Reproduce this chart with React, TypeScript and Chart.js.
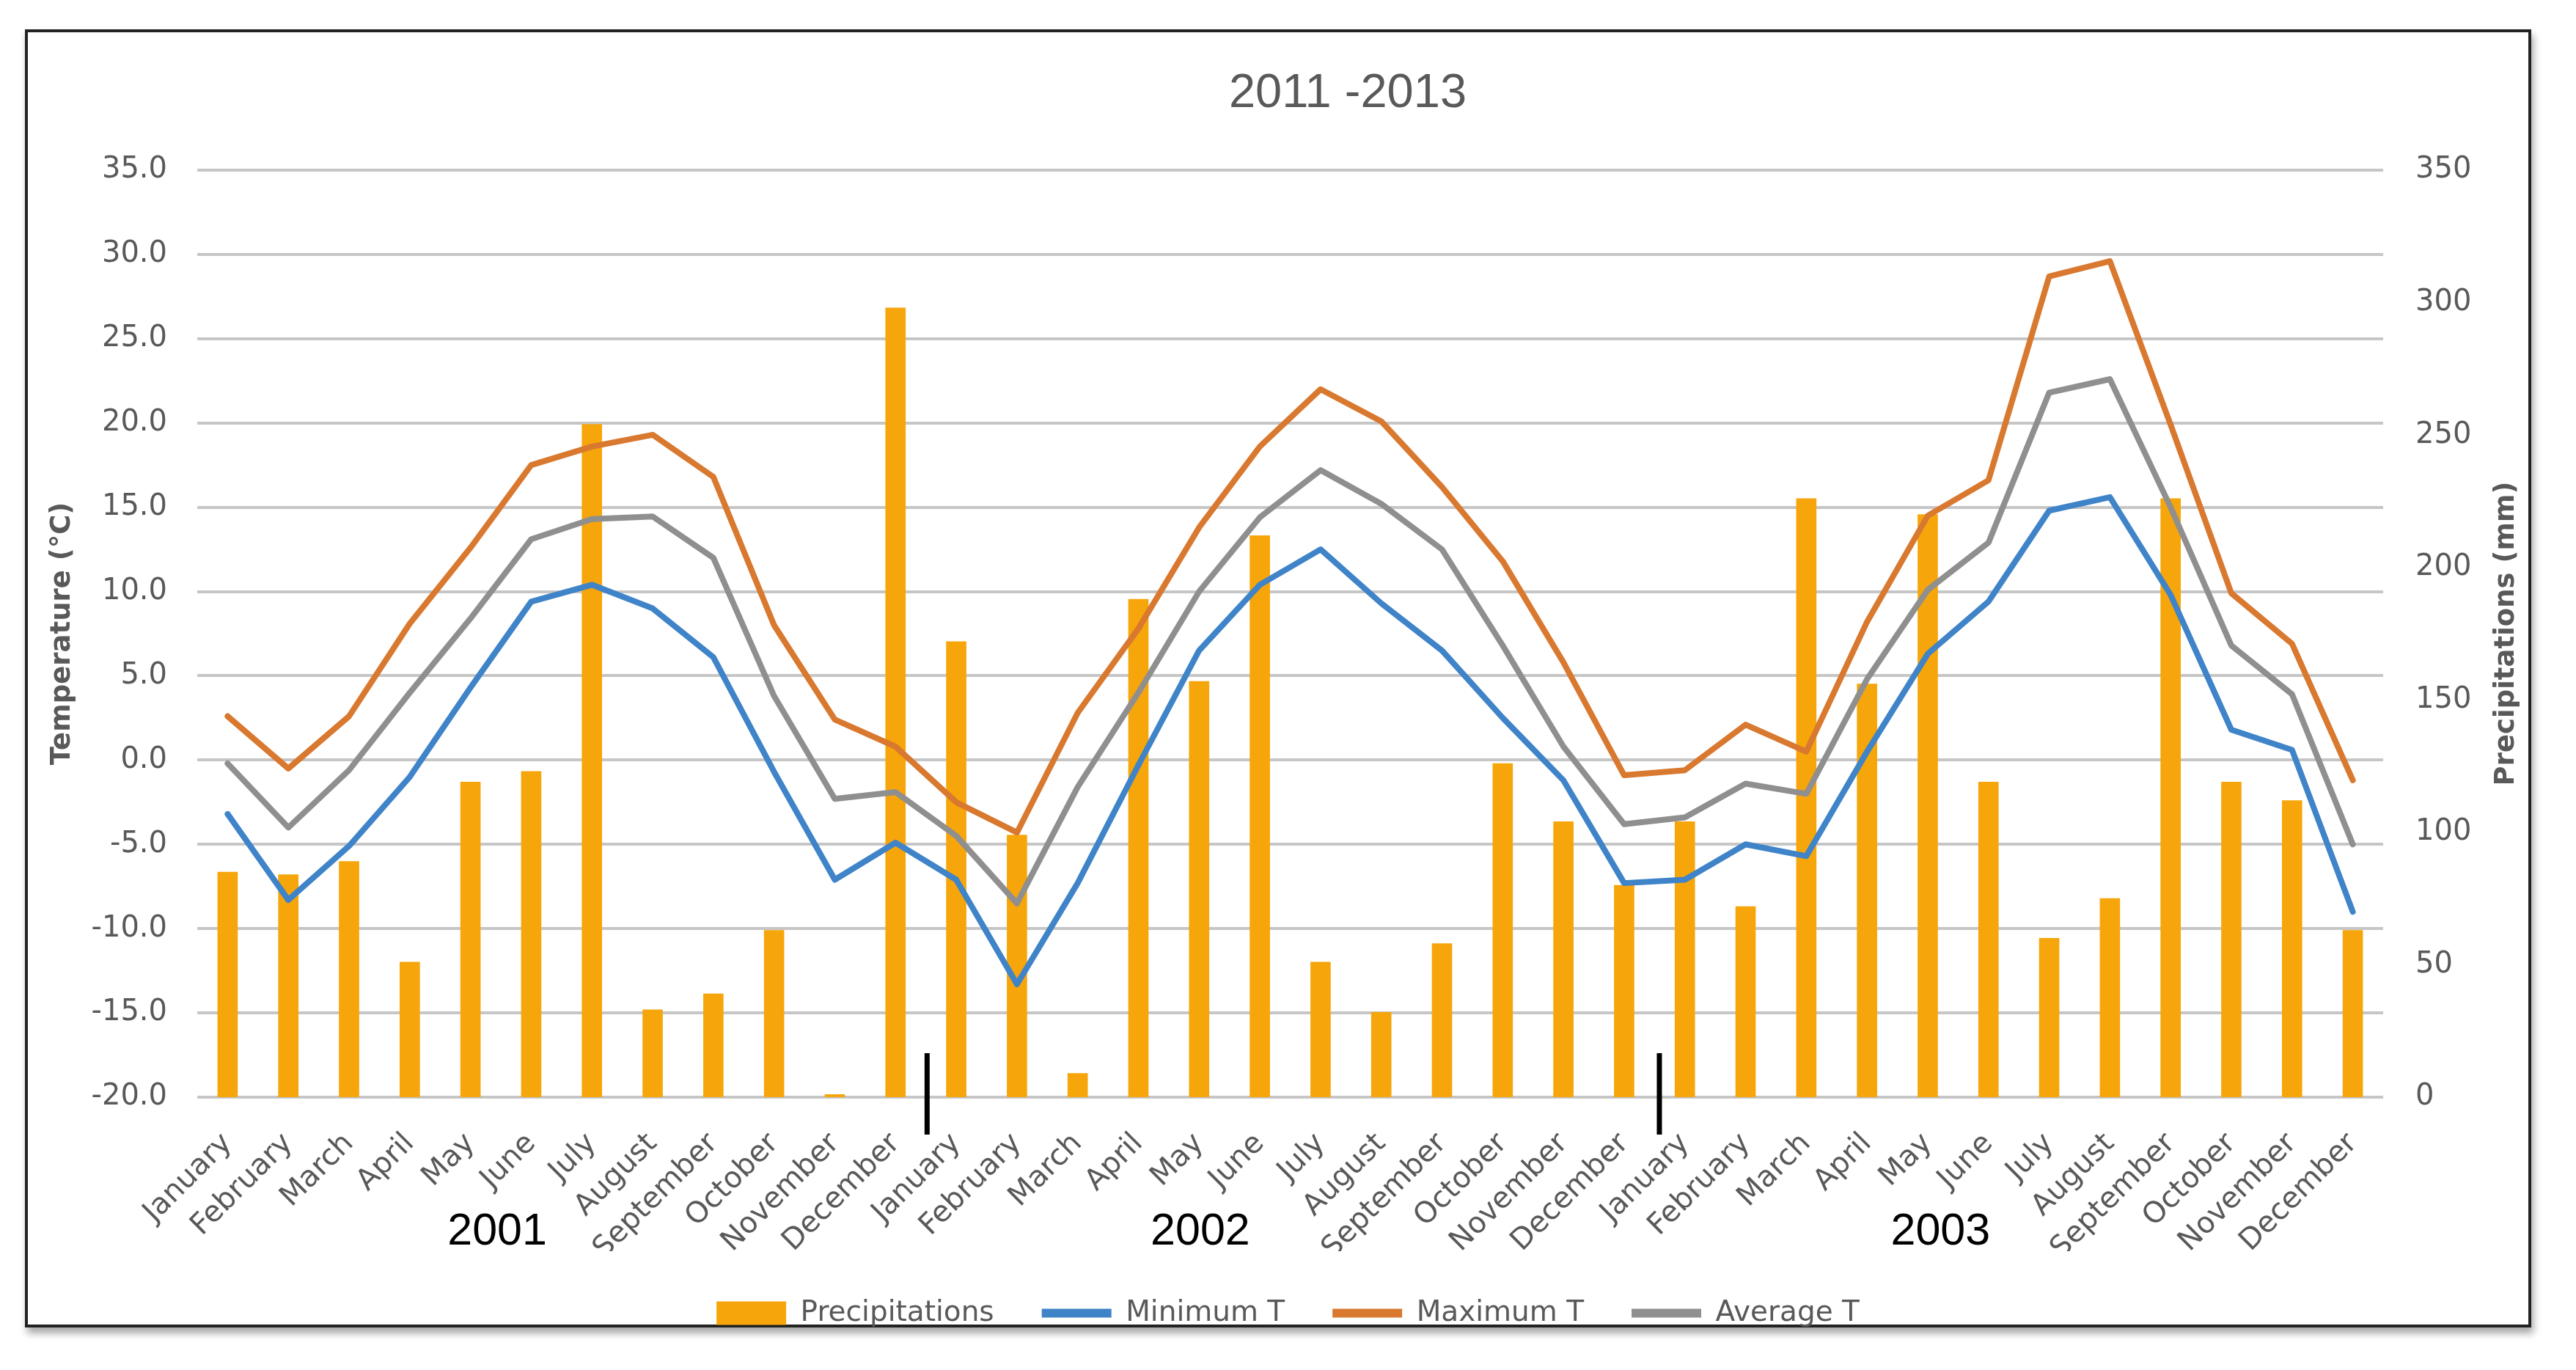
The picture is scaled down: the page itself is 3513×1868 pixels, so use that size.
import React, { useEffect, useRef } from 'react';
import { Chart, registerables } from 'chart.js';

Chart.register(...registerables);

// ---------- data ----------
const monthNames = [
  'January', 'February', 'March', 'April', 'May', 'June',
  'July', 'August', 'September', 'October', 'November', 'December',
];
const categories = [...monthNames, ...monthNames, ...monthNames];

const precipitations = [
  85, 84, 89, 51, 119, 123, 254, 33, 39, 63, 1, 298,
  172, 99, 9, 188, 157, 212, 51, 32, 58, 126, 104, 80,
  104, 72, 226, 156, 220, 119, 60, 75, 226, 119, 112, 63,
];
const minimumT = [
  -3.2, -8.3, -5.1, -1.0, 4.3, 9.4, 10.4, 9.0, 6.1, -0.7, -7.1, -4.9,
  -7.1, -13.3, -7.3, -0.3, 6.5, 10.4, 12.5, 9.3, 6.5, 2.5, -1.2, -7.3,
  -7.1, -5.0, -5.7, 0.5, 6.3, 9.4, 14.8, 15.6, 9.8, 1.8, 0.6, -9.0,
];
const maximumT = [
  2.6, -0.5, 2.6, 8.1, 12.6, 17.5, 18.6, 19.3, 16.8, 8.0, 2.4, 0.8,
  -2.5, -4.3, 2.8, 7.8, 13.8, 18.6, 22.0, 20.1, 16.2, 11.8, 5.8, -0.9,
  -0.6, 2.1, 0.5, 8.2, 14.5, 16.6, 28.7, 29.6, 19.9, 9.9, 6.9, -1.2,
];
const averageT = [
  -0.2, -4.0, -0.6, 4.0, 8.4, 13.1, 14.3, 14.45, 12.0, 3.8, -2.3, -1.9,
  -4.5, -8.5, -1.6, 4.0, 10.0, 14.4, 17.2, 15.2, 12.5, 6.8, 0.8, -3.8,
  -3.4, -1.4, -2.0, 4.8, 10.1, 12.9, 21.8, 22.6, 15.0, 6.8, 3.9, -5.0,
];

const seriesNames = ['Precipitations', 'Minimum T', 'Maximum T', 'Average T'];
const yearLabels = ['2001', '2002', '2003'];
const chartTitle = '2011 -2013';
const leftAxisTitle = 'Temperature (°C)';
const rightAxisTitle = 'Precipitations (mm)';

const tempMin = -20;
const tempMax = 35;
const tempStep = 5;
const precMin = 0;
const precMax = 350;
const precStep = 50;

// ---------- layout / style ----------
const W = 3513;
const H = 1868;
const yearLabelIndex = [4.44, 16.02, 28.21];
const separatorIndex = [11.52, 23.58];
const TEXT = '#595959';
const colors = {
  bar: '#F6A60B',
  min: '#3F83C8',
  max: '#D9782F',
  avg: '#8F8F8F',
  grid: '#C6C6C6',
};

const overlayPlugin = {
  id: 'overlayText',
  afterDraw(chart: any) {
    const { ctx, chartArea, scales } = chart;
    const midY = (chartArea.top + chartArea.bottom) / 2;
    ctx.save();
    // title
    ctx.fillStyle = TEXT;
    ctx.textAlign = 'center';
    ctx.textBaseline = 'middle';
    ctx.font = '65px "Liberation Sans"';
    ctx.fillText(chartTitle, 1838, 128);
    // axis titles (both read bottom-to-top)
    ctx.font = 'bold 37px "DejaVu Sans"';
    ctx.save();
    ctx.translate(85, midY);
    ctx.rotate(-Math.PI / 2);
    ctx.fillText(leftAxisTitle, 0, 0);
    ctx.restore();
    ctx.save();
    ctx.translate(3418, midY);
    ctx.rotate(-Math.PI / 2);
    ctx.fillText(rightAxisTitle, 0, 0);
    ctx.restore();
    // year separators
    ctx.strokeStyle = '#000';
    ctx.lineWidth = 7;
    separatorIndex.forEach((v) => {
      const x = scales.x.getPixelForValue(v);
      ctx.beginPath();
      ctx.moveTo(x, chartArea.bottom - 60);
      ctx.lineTo(x, chartArea.bottom + 51);
      ctx.stroke();
    });
    // year labels
    ctx.fillStyle = '#000';
    ctx.font = '61px "Liberation Sans"';
    yearLabels.forEach((t, i) => {
      const x = scales.x.getPixelForValue(yearLabelIndex[i]);
      ctx.fillText(t, x, 1680);
    });
    ctx.restore();
  },
};

export default function App() {
  const canvasRef = useRef<HTMLCanvasElement | null>(null);

  useEffect(() => {
    if (!canvasRef.current) return;
    const lineCommon = {
      type: 'line' as const,
      yAxisID: 'y',
      borderWidth: 8,
      pointRadius: 0,
      pointHoverRadius: 0,
      pointStyle: 'line',
      pointBorderWidth: 12,
      tension: 0,
      borderJoinStyle: 'round' as const,
      borderCapStyle: 'round' as const,
      order: 0,
    };
    const chart = new Chart(canvasRef.current, {
      type: 'bar',
      data: {
        labels: categories,
        datasets: [
          {
            type: 'bar',
            label: seriesNames[0],
            data: precipitations,
            yAxisID: 'y1',
            backgroundColor: colors.bar,
            borderWidth: 0,
            barThickness: 27,
            pointStyle: 'rect',
            order: 1,
          } as any,
          { ...lineCommon, label: seriesNames[1], data: minimumT, borderColor: colors.min, pointBorderColor: colors.min, pointBackgroundColor: colors.min } as any,
          { ...lineCommon, label: seriesNames[2], data: maximumT, borderColor: colors.max, pointBorderColor: colors.max, pointBackgroundColor: colors.max } as any,
          { ...lineCommon, label: seriesNames[3], data: averageT, borderColor: colors.avg, pointBorderColor: colors.avg, pointBackgroundColor: colors.avg } as any,
        ],
      },
      options: {
        animation: false,
        responsive: false,
        devicePixelRatio: 1,
        layout: { padding: { top: 232, bottom: 48, left: 0, right: 0 } },
        plugins: {
          title: { display: false },
          tooltip: { enabled: false },
          legend: {
            position: 'bottom',
            labels: {
              usePointStyle: true,
              pointStyleWidth: 95,
              boxHeight: 32,
              padding: 65,
              color: TEXT,
              font: { family: '"DejaVu Sans"', size: 39 },
              sort: (a: any, b: any) => a.datasetIndex - b.datasetIndex,
            },
          },
        },
        scales: {
          x: {
            type: 'category',
            offset: true,
            grid: { display: false, drawTicks: false },
            border: { display: false },
            ticks: {
              autoSkip: false,
              maxRotation: 45,
              minRotation: 45,
              color: TEXT,
              padding: 40,
              font: { family: '"DejaVu Sans"', size: 40 },
            },
            afterFit: (s: any) => { s.height = 210; },
          },
          y: {
            position: 'left',
            min: tempMin,
            max: tempMax,
            grid: { color: colors.grid, lineWidth: 4, drawTicks: false },
            border: { display: false },
            ticks: {
              stepSize: tempStep,
              color: TEXT,
              padding: 41,
              font: { family: '"DejaVu Sans"', size: 40 },
              callback: (v: any) => Number(v).toFixed(1),
            },
            afterFit: (s: any) => { s.width = 269; },
          },
          y1: {
            position: 'right',
            min: precMin,
            max: precMax,
            grid: { display: false, drawTicks: false },
            border: { display: false },
            ticks: {
              stepSize: precStep,
              color: TEXT,
              padding: 44,
              font: { family: '"DejaVu Sans"', size: 40 },
            },
            afterFit: (s: any) => { s.width = W - 3250; },
          },
        },
      } as any,
      plugins: [overlayPlugin],
    });
    return () => chart.destroy();
  }, []);

  return (
    <div style={{ position: 'absolute', left: 0, top: 0, width: W, height: H, background: '#fff', overflow: 'hidden' }}>
      <div
        style={{
          position: 'absolute', left: 34, top: 40, width: 3418, height: 1770,
          border: '4px solid #222', boxSizing: 'border-box',
          boxShadow: '3px 8px 10px rgba(0,0,0,0.35)', background: '#fff',
        }}
      />
      <canvas
        ref={canvasRef}
        width={W}
        height={H}
        style={{ position: 'absolute', left: 0, top: 0, width: W, height: H }}
      />
    </div>
  );
}
